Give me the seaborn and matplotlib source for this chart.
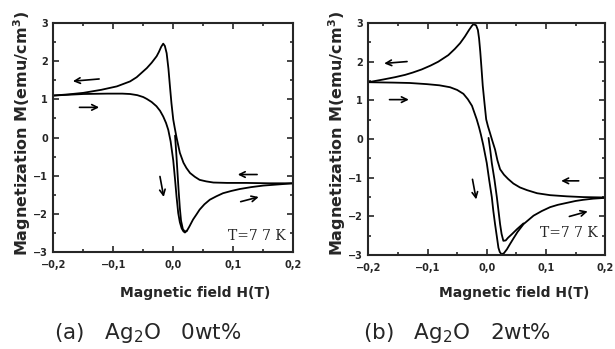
import numpy as np
import matplotlib
matplotlib.use("Agg")
import matplotlib.pyplot as plt
import seaborn as sns
from matplotlib.ticker import MultipleLocator

# panel (a) Ag2O 0wt% -- field H (T), magnetization M (emu/cm^3)
h_a_down = [0.200, 0.160, 0.122, 0.090, 0.067, 0.055, 0.044, 0.036, 0.028, 0.022, 0.017, 0.011,
            0.0055, 0.0025, 0.000, -0.003, -0.0055, -0.008, -0.011, -0.014, -0.0167, -0.020,
            -0.024, -0.0277, -0.036, -0.044, -0.061, -0.072, -0.094, -0.120, -0.150, -0.175, -0.200]
m_a_down = [-1.20, -1.20, -1.19, -1.19, -1.18, -1.15, -1.11, -1.03, -0.93, -0.80, -0.66, -0.40,
            0.00, 0.25, 0.47, 0.90, 1.34, 1.80, 2.21, 2.40, 2.46, 2.38,
            2.24, 2.13, 1.96, 1.82, 1.58, 1.47, 1.34, 1.25, 1.17, 1.13, 1.10]
h_a_up = [-0.200, -0.150, -0.110, -0.085, -0.072, -0.060, -0.050, -0.044, -0.036, -0.028, -0.022,
          -0.0167, -0.012, -0.0083, -0.0044, 0.000, 0.003, 0.0055, 0.0083, 0.011, 0.014, 0.017,
          0.0195, 0.023, 0.027, 0.033, 0.039, 0.044, 0.052, 0.061, 0.072, 0.083, 0.097, 0.111,
          0.130, 0.150, 0.175, 0.200]
m_a_up = [1.10, 1.14, 1.15, 1.15, 1.14, 1.11, 1.06, 1.01, 0.93, 0.82, 0.70,
          0.55, 0.38, 0.20, -0.10, -0.60, -1.10, -1.55, -1.98, -2.22, -2.38, -2.46,
          -2.49, -2.44, -2.33, -2.15, -2.01, -1.89, -1.75, -1.63, -1.54, -1.46, -1.40, -1.35,
          -1.30, -1.26, -1.23, -1.20]
h_a_virgin = [0.003, 0.005, 0.007, 0.009, 0.011, 0.013, 0.016, 0.0195, 0.023]
m_a_virgin = [0.05, -0.40, -0.90, -1.40, -1.85, -2.18, -2.40, -2.47, -2.44]

# panel (b) Ag2O 2wt%
h_b_down = [0.200, 0.163, 0.135, 0.107, 0.085, 0.068, 0.056, 0.045, 0.036, 0.029, 0.0225, 0.018,
            0.014, 0.0095, 0.0056, 0.002, -0.001, -0.004, -0.0068, -0.009, -0.011, -0.013, -0.015,
            -0.018, -0.0225, -0.025, -0.030, -0.037, -0.045, -0.054, -0.065, -0.082, -0.095,
            -0.110, -0.125, -0.138, -0.155, -0.175, -0.200]
m_b_down = [-1.51, -1.50, -1.48, -1.45, -1.40, -1.32, -1.25, -1.15, -1.03, -0.92, -0.78, -0.55,
            -0.27, -0.05, 0.15, 0.33, 0.51, 0.95, 1.38, 1.85, 2.26, 2.60, 2.82,
            2.94, 2.97, 2.93, 2.82, 2.65, 2.48, 2.33, 2.17, 2.00, 1.90,
            1.80, 1.72, 1.66, 1.60, 1.54, 1.47]
h_b_up = [-0.200, -0.158, -0.130, -0.101, -0.080, -0.062, -0.050, -0.0395, -0.032, -0.025, -0.017,
          -0.013, -0.010, -0.006, 0.000, 0.004, 0.0085, 0.011, 0.014, 0.017, 0.0197, 0.022, 0.025,
          0.029, 0.034, 0.039, 0.045, 0.052, 0.062, 0.079, 0.093, 0.107, 0.120, 0.135, 0.150,
          0.163, 0.180, 0.200]
m_b_up = [1.47, 1.46, 1.45, 1.42, 1.39, 1.34, 1.27, 1.17, 1.03, 0.86, 0.51,
          0.30, 0.12, -0.15, -0.62, -1.05, -1.50, -1.85, -2.20, -2.52, -2.81, -2.92, -2.98,
          -2.95, -2.85, -2.72, -2.57, -2.40, -2.20, -1.98, -1.86, -1.76, -1.70, -1.65, -1.60,
          -1.57, -1.54, -1.52]
h_b_virgin = [0.003, 0.006, 0.0085, 0.013, 0.017, 0.020, 0.0225, 0.025, 0.028, 0.032, 0.036,
              0.043, 0.051, 0.062]
m_b_virgin = [0.03, -0.30, -0.62, -1.05, -1.50, -1.88, -2.20, -2.45, -2.63, -2.62, -2.55,
              -2.45, -2.33, -2.18]

x_ticks = [-0.2, -0.1, 0.0, 0.1, 0.2]
x_ticklabels = ["\u22120,2", "\u22120,1", "0,0", "0,1", "0,2"]
y_ticks = [-3, -2, -1, 0, 1, 2, 3]
y_ticklabels = ["\u22123", "\u22122", "\u22121", "0", "1", "2", "3"]

panel_titles = ["(a)   Ag$_2$O   0wt%", "(b)   Ag$_2$O   2wt%"]

# arrows along the loop: (start H, start M, end H, end M)
arrows_a = [(-0.119, 1.54, -0.172, 1.47), (-0.161, 0.79, -0.119, 0.79),
            (-0.023, -0.95, -0.015, -1.63), (0.1445, -0.97, 0.103, -0.97),
            (0.108, -1.70, 0.147, -1.54)]
arrows_b = [(-0.130, 2.01, -0.178, 1.95), (-0.169, 1.02, -0.127, 1.02),
            (-0.025, -0.97, -0.017, -1.63), (0.160, -1.08, 0.121, -1.08),
            (0.135, -2.02, 0.175, -1.85)]

sns.set_style("ticks")
plt.rcParams["font.family"] = ["DejaVu Sans"]

fig = plt.figure(figsize=(6.15, 3.49), dpi=100)
ax1 = fig.add_axes([0.0867, 0.278, 0.390, 0.656])
ax2 = fig.add_axes([0.599, 0.269, 0.385, 0.665])

panels = [
    (ax1, h_a_down, m_a_down, h_a_up, m_a_up, h_a_virgin, m_a_virgin, arrows_a, -2.58),
    (ax2, h_b_down, m_b_down, h_b_up, m_b_up, h_b_virgin, m_b_virgin, arrows_b, -2.44),
]

for ax, hd, md, hu, mu, hv, mv, arrows, t_y in panels:
    for h, m in [(hd, md), (hu, mu), (hv, mv)]:
        sns.lineplot(x=h, y=m, sort=False, estimator=None, color="black", lw=1.3, ax=ax)
    for x0, y0, x1, y1 in arrows:
        ax.annotate("", xy=(x1, y1), xytext=(x0, y0),
                    arrowprops=dict(arrowstyle="->", color="black", lw=1.2))
    ax.text(0.188, t_y, "T=7 7 K", family="DejaVu Serif", fontsize=10,
            ha="right", va="center")
    ax.set_xlim(-0.2, 0.2)
    ax.set_ylim(-3, 3)
    ax.set_xticks(x_ticks)
    ax.set_xticklabels(x_ticklabels)
    ax.set_yticks(y_ticks)
    ax.set_yticklabels(y_ticklabels)
    ax.xaxis.set_minor_locator(MultipleLocator(0.05))
    ax.yaxis.set_minor_locator(MultipleLocator(0.5))
    ax.tick_params(which="both", direction="in", top=True, right=True, width=1.2)
    ax.tick_params(which="major", length=4)
    ax.tick_params(which="minor", length=2)
    ax.tick_params(axis="x", pad=6)
    ax.tick_params(axis="y", pad=4)
    for lab in ax.get_xticklabels() + ax.get_yticklabels():
        lab.set_fontsize(7)
        lab.set_fontweight("bold")
    for sp in ax.spines.values():
        sp.set_linewidth(1.5)
    ax.set_xlabel("")
    ax.set_ylabel("")

# axis labels placed like the scanned figure
ylabel = "Magnetization M(emu/cm$^\\mathbf{3}$)"
fig.text(0.036, 0.619, ylabel, rotation=90, fontsize=11.5, fontweight="bold",
         ha="center", va="center")
fig.text(0.548, 0.619, ylabel, rotation=90, fontsize=11.5, fontweight="bold",
         ha="center", va="center")
fig.text(0.317, 0.160, "Magnetic field H(T)", fontsize=10, fontweight="bold",
         ha="center", va="center")
fig.text(0.836, 0.160, "Magnetic field H(T)", fontsize=10, fontweight="bold",
         ha="center", va="center")
fig.text(0.241, 0.046, panel_titles[0], fontsize=15.5, ha="center", va="center")
fig.text(0.743, 0.046, panel_titles[1], fontsize=15.5, ha="center", va="center")

fig.savefig("out.png", dpi=100)
